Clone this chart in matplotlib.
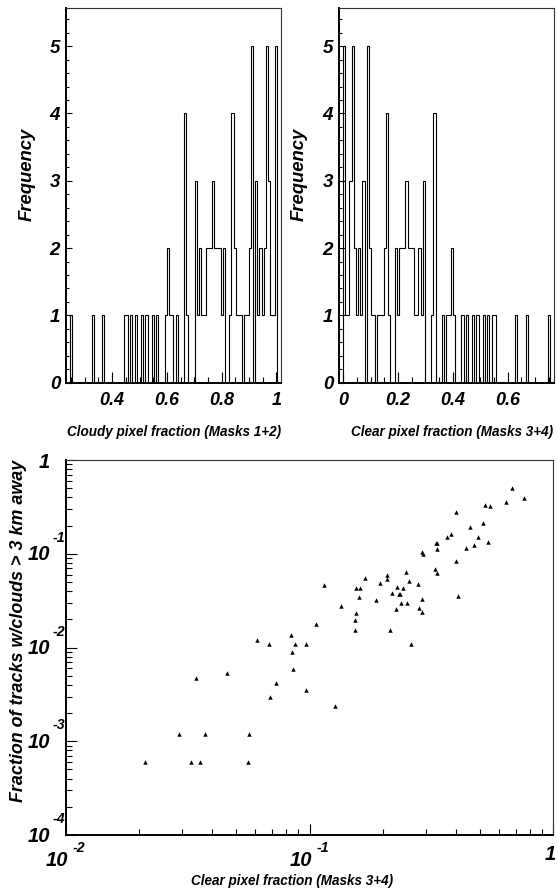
import numpy as np
import matplotlib
matplotlib.use("Agg")
import matplotlib.pyplot as plt
from matplotlib import font_manager as fm
from matplotlib.ticker import MultipleLocator, LogLocator, NullFormatter, FuncFormatter
import matplotlib.transforms as mtrans

# ---- data ----
# clear pixel fraction histogram, 100 bins
clear_counts = [
    0, 0, 5, 1, 1, 3, 5, 2, 1, 2,
    1, 3, 0, 5, 2, 1, 1, 0, 1, 1,
    1, 2, 4, 1, 0, 0, 2, 1, 2, 2,
    2, 3, 2, 2, 2, 1, 1, 2, 1, 3,
    0, 0, 0, 1, 4, 0, 0, 0, 1, 0,
    1, 1, 2, 1, 0, 0, 0, 1, 0, 1,
    0, 0, 1, 0, 1, 0, 0, 1, 0, 1,
    0, 1, 1, 0, 0, 0, 0, 0, 0, 0,
    0, 0, 1, 0, 0, 0, 0, 1, 0, 0,
    0, 0, 0, 0, 0, 0, 0, 1, 0, 0,
]
clear_range = (-0.0165, 0.7695)

# cloudy pixel fraction histogram, 100 bins
cloudy_counts = [
    0, 0, 1, 0, 0, 0, 0, 0, 0, 0,
    0, 0, 1, 0, 0, 0, 0, 1, 0, 0,
    0, 0, 0, 0, 0, 0, 0, 1, 1, 0,
    1, 0, 1, 0, 0, 1, 0, 1, 0, 0,
    1, 0, 1, 0, 0, 0, 1, 2, 1, 1,
    0, 1, 0, 0, 0, 4, 1, 0, 0, 0,
    3, 1, 2, 1, 1, 2, 2, 2, 3, 2,
    2, 2, 1, 2, 0, 0, 1, 4, 2, 1,
    1, 1, 0, 1, 1, 2, 5, 0, 3, 1,
    2, 1, 2, 5, 3, 1, 1, 5, 0, 0,
]
cloudy_range = (0.2305, 1.0165)

# scatter: clear fraction vs fraction of tracks with clouds > 3 km away
clear_frac = [0.677, 0.756, 0.638, 0.526, 0.552, 0.400, 0.455, 0.516, 0.382, 0.365,
              0.490, 0.540, 0.473, 0.437, 0.329, 0.334, 0.334, 0.290, 0.293, 0.399,
              0.326, 0.334, 0.249, 0.257, 0.279, 0.2085, 0.2074, 0.1694, 0.1946, 0.228,
              0.2425, 0.2186, 0.2322, 0.2357, 0.2379, 0.2511, 0.2270, 0.2805, 0.290, 0.2885,
              0.4076, 0.1875, 0.1556, 0.1616, 0.1591, 0.1150, 0.1343, 0.1556, 0.1532, 0.1541,
              0.1063, 0.2145, 0.0842, 0.0872, 0.0967, 0.0850, 0.2616, 0.0607, 0.0684, 0.0856,
              0.0729, 0.0691, 0.0457, 0.0343, 0.0291, 0.0372, 0.0566, 0.0212, 0.0327, 0.0356,
              0.0561, 0.0967, 0.1276]
far_frac = [0.499, 0.390, 0.354, 0.331, 0.323, 0.277, 0.1915, 0.211, 0.1624, 0.152,
            0.1498, 0.1344, 0.1231, 0.116, 0.1293, 0.1293, 0.1115, 0.1052, 0.0994, 0.0837,
            0.0688, 0.0623, 0.0639, 0.0516, 0.0479, 0.0589, 0.0542, 0.0555, 0.0488, 0.0442,
            0.0428, 0.0381, 0.0372, 0.0375, 0.0296, 0.0296, 0.0259, 0.0266, 0.0237, 0.0329,
            0.0357, 0.0321, 0.0434, 0.0434, 0.0346, 0.0468, 0.0279, 0.0232, 0.0195, 0.01537,
            0.0178, 0.01537, 0.0136, 0.01082, 0.01082, 0.00902, 0.01082, 0.01217, 0.01077, 0.00594,
            0.00418, 0.00299, 0.00538, 0.00476, 0.001195, 0.001186, 0.001186, 0.000596, 0.000596, 0.000596,
            0.000596, 0.00352, 0.00238]

W, H = 557, 890

names = {f.name for f in fm.fontManager.ttflist}
if "Liberation Sans Narrow" in names:
    FAM, SQ = "Liberation Sans Narrow", 1.0
else:
    FAM, SQ = "Liberation Sans", 0.82
plt.rcParams["font.family"] = [FAM, "DejaVu Sans"]
plt.rcParams["font.weight"] = "bold"
plt.rcParams["font.style"] = "italic"


def box(l, t, r, b):
    return [l / W, 1 - b / H, (r - l) / W, (b - t) / H]


def fx(px):
    return px / W


def fy(py):
    return 1 - py / H


def frame(ax):
    for s in ("top", "right"):
        ax.spines[s].set_linewidth(0.8)
        ax.spines[s].set_color("#333333")
    for s in ("left", "bottom"):
        ax.spines[s].set_linewidth(1.4)
    ax.tick_params(which="both", direction="in", top=False, right=False, width=0.8)


fig = plt.figure(figsize=(W / 100, H / 100), dpi=100)
ax1 = fig.add_axes(box(65.7, 7.5, 281, 382.7))
ax2 = fig.add_axes(box(338.7, 7.5, 554, 382.7))
ax3 = fig.add_axes(box(65.7, 460, 553.3, 835))


def hist_label(v, pos):
    if abs(v) < 1e-9:
        return "0"
    if abs(v - round(v)) < 1e-9:
        return "%d" % round(v)
    return "%.1f" % v


for ax, counts, rng in ((ax1, cloudy_counts, cloudy_range), (ax2, clear_counts, clear_range)):
    edges = np.linspace(rng[0], rng[1], len(counts) + 1)
    ax.stairs(counts, edges, color="black", lw=0.8)
    ax.set_xlim(rng)
    ax.set_ylim(0, 5.575)
    frame(ax)
    ax.xaxis.set_major_locator(MultipleLocator(0.2))
    ax.xaxis.set_minor_locator(MultipleLocator(0.05))
    ax.yaxis.set_major_locator(MultipleLocator(1))
    ax.yaxis.set_minor_locator(MultipleLocator(0.2))
    ax.xaxis.set_major_formatter(FuncFormatter(hist_label))
    ax.yaxis.set_major_formatter(FuncFormatter(hist_label))
    ax.tick_params(axis="x", which="major", length=7.9, pad=6.5, labelsize=13)
    ax.tick_params(axis="x", which="minor", length=4.3)
    ax.tick_params(axis="y", which="major", length=4.3, pad=4, labelsize=13.5)
    ax.tick_params(axis="y", which="minor", length=2.2)

fs_title = 11.9 * SQ
fig.text(fx(281), fy(436), "Cloudy pixel fraction (Masks 1+2)", ha="right", va="baseline", fontsize=fs_title)
fig.text(fx(553.3), fy(436), "Clear pixel fraction (Masks 3+4)", ha="right", va="baseline", fontsize=fs_title)
fig.text(fx(27.5), fy(174), "Frequency", rotation=90, ha="center", va="center", fontsize=13.3)
fig.text(fx(299), fy(174), "Frequency", rotation=90, ha="center", va="center", fontsize=13.3)

# ---- scatter ----
ax3.plot(clear_frac, far_frac, ls="none", marker="^", ms=3.2, mew=0, color="black")
ax3.set_xscale("log")
ax3.set_yscale("log")
ax3.set_xlim(1e-2, 1)
ax3.set_ylim(1e-4, 1)
frame(ax3)
for axis in (ax3.xaxis, ax3.yaxis):
    axis.set_major_locator(LogLocator(base=10, numticks=10))
    axis.set_minor_locator(LogLocator(base=10, subs=np.arange(2, 10), numticks=10))
    axis.set_major_formatter(NullFormatter())
    axis.set_minor_formatter(NullFormatter())
ax3.tick_params(which="major", length=7.9)
ax3.tick_params(which="minor", length=4.3)


def px_off(dx, dy):
    return mtrans.ScaledTranslation(dx / 100, dy / 100, fig.dpi_scale_trans)


ty = mtrans.blended_transform_factory(ax3.transAxes, ax3.transData)
tx = mtrans.blended_transform_factory(ax3.transData, ax3.transAxes)
big, small = 14.5, 10.2
for e in (-4, -3, -2, -1):
    ax3.text(0, 10.0 ** e, "10", transform=ty + px_off(-15.5, -1), ha="right", va="center", fontsize=big)
    ax3.text(0, 10.0 ** e, "%d" % e, transform=ty + px_off(-13, 16), ha="left", va="center", fontsize=small)
ax3.text(0, 1.0, "1", transform=ty + px_off(-15.5, -3), ha="right", va="center", fontsize=big)
for e in (-2, -1):
    ax3.text(10.0 ** e, 0, "10", transform=tx + px_off(2.5, -25), ha="right", va="center", fontsize=big)
    ax3.text(10.0 ** e, 0, "%d" % e, transform=tx + px_off(7, -13), ha="left", va="center", fontsize=small)
ax3.text(1.0, 0, "1", transform=tx + px_off(-3, -19), ha="center", va="center", fontsize=big)

fig.text(fx(292.5), fy(885), "Clear pixel fraction (Masks 3+4)", ha="center", va="baseline", fontsize=fs_title)
fig.text(fx(18.5), fy(460), "Fraction of tracks w/clouds > 3 km away", rotation=90,
         ha="center", va="top", fontsize=12.9)

fig.savefig("out.png", dpi=100)
